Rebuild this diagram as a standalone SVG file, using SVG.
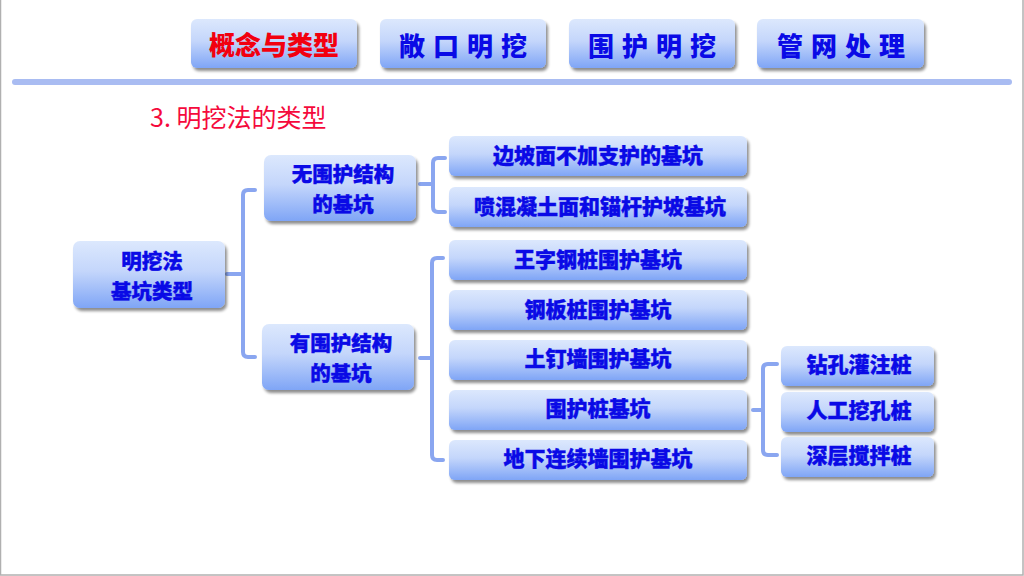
<svg xmlns="http://www.w3.org/2000/svg" width="1024" height="576" viewBox="0 0 1024 576">
<defs>
<linearGradient id="g" x1="0" y1="0" x2="0" y2="1">
<stop offset="0" stop-color="#dce8fd"/>
<stop offset="0.45" stop-color="#c4d6fb"/>
<stop offset="1" stop-color="#7fa5f6"/>
</linearGradient>
<filter id="sh" x="-10%" y="-20%" width="120%" height="150%">
<feGaussianBlur in="SourceAlpha" stdDeviation="1.5"/>
<feOffset dx="2" dy="2.5" result="o"/>
<feComponentTransfer><feFuncA type="linear" slope="0.45"/></feComponentTransfer>
<feMerge><feMergeNode/><feMergeNode in="SourceGraphic"/></feMerge>
</filter>
</defs>
<style>
.box{fill:url(#g);filter:url(#sh)}
.t{font-family:"Noto Sans CJK SC","Liberation Sans",sans-serif;font-weight:900;fill:#0a0ae6;stroke:#0a0ae6;stroke-width:0.4;text-anchor:middle;font-size:21px}
.t2{font-size:20.5px}
.tb{font-family:"Noto Sans CJK SC","Liberation Sans",sans-serif;font-weight:900;fill:#0a0ae6;text-anchor:middle;font-size:26px;letter-spacing:8px}
.c{fill:none;stroke:#8aa6f0;stroke-width:4;stroke-linecap:round;stroke-linejoin:round}
</style>
<rect x="0" y="0" width="1024" height="576" fill="#fff"/>
<rect x="0.5" y="-1" width="1022.5" height="576" fill="none" stroke="#b0b0b0" stroke-width="1.5"/>
<g id="nav">
<g id="nav1"><rect class="box" x="191" y="19" width="166" height="49" rx="6"/>
<text x="274" y="55" class="tb" style="fill:#f2000f;letter-spacing:0">概念与类型</text></g>
<g id="nav2"><rect class="box" x="380" y="19" width="166" height="49" rx="6"/>
<text x="467" y="56" class="tb">敞口明挖</text></g>
<g id="nav3"><rect class="box" x="569" y="19" width="166" height="49" rx="6"/>
<text x="656" y="56" class="tb">围护明挖</text></g>
<g id="nav4"><rect class="box" x="757" y="19" width="167" height="49" rx="6"/>
<text x="845" y="56" class="tb">管网处理</text></g>
</g>
<rect x="12" y="79" width="1000" height="6" rx="3" fill="#a9bcf2"/>
<text x="150" y="127" font-family="'Noto Sans CJK SC','Liberation Sans',sans-serif" font-size="25" fill="#f50a3c">3. 明挖法的类型</text>
<g id="connectors">
<path class="c" d="M227 274 H243 M255 190 H248 Q243 190 243 195 V352 Q243 357 248 357 H255"/>
<path class="c" d="M420 184 H433 M445 158 H438 Q433 158 433 163 V207 Q433 212 438 212 H445"/>
<path class="c" d="M420 358 H432 M443 258 H437 Q432 258 432 263 V455 Q432 460 437 460 H443"/>
<path class="c" d="M753 410 H763 M777 364 H768 Q763 364 763 369 V450 Q763 455 768 455 H777"/>
</g>
<g id="root"><rect class="box" x="73" y="241" width="152" height="67" rx="7"/>
<text class="t t2"><tspan x="152" y="269">明挖法</tspan><tspan x="152" y="299">基坑类型</tspan></text></g>
<g id="nA"><rect class="box" x="264" y="155" width="152" height="66" rx="7"/>
<text class="t t2"><tspan x="343" y="182">无围护结构</tspan><tspan x="343" y="212">的基坑</tspan></text></g>
<g id="nB"><rect class="box" x="262" y="324" width="152" height="66" rx="7"/>
<text class="t t2"><tspan x="341" y="351">有围护结构</tspan><tspan x="341" y="381">的基坑</tspan></text></g>
<g id="l1"><rect class="box" x="449" y="136" width="298" height="40" rx="6"/><text x="598" y="163" class="t">边坡面不加支护的基坑</text></g>
<g id="l2"><rect class="box" x="449" y="187" width="298" height="40" rx="6"/><text x="600" y="214" class="t">喷混凝土面和锚杆护坡基坑</text></g>
<g id="l3"><rect class="box" x="449" y="240" width="298" height="40" rx="6"/><text x="598" y="267" class="t">王字钢桩围护基坑</text></g>
<g id="l4"><rect class="box" x="449" y="290" width="298" height="40" rx="6"/><text x="598" y="317" class="t">钢板桩围护基坑</text></g>
<g id="l5"><rect class="box" x="449" y="340" width="298" height="40" rx="6"/><text x="598" y="366" class="t">土钉墙围护基坑</text></g>
<g id="l6"><rect class="box" x="449" y="390" width="298" height="40" rx="6"/><text x="598" y="416" class="t">围护桩基坑</text></g>
<g id="l7"><rect class="box" x="449" y="440" width="298" height="40" rx="6"/><text x="598" y="466" class="t">地下连续墙围护基坑</text></g>
<g id="r1"><rect class="box" x="781" y="346" width="153" height="40" rx="6"/><text x="859" y="372" class="t">钻孔灌注桩</text></g>
<g id="r2"><rect class="box" x="781" y="392" width="153" height="40" rx="6"/><text x="859" y="418" class="t">人工挖孔桩</text></g>
<g id="r3"><rect class="box" x="781" y="437" width="153" height="40" rx="6"/><text x="859" y="463" class="t">深层搅拌桩</text></g>
</svg>
